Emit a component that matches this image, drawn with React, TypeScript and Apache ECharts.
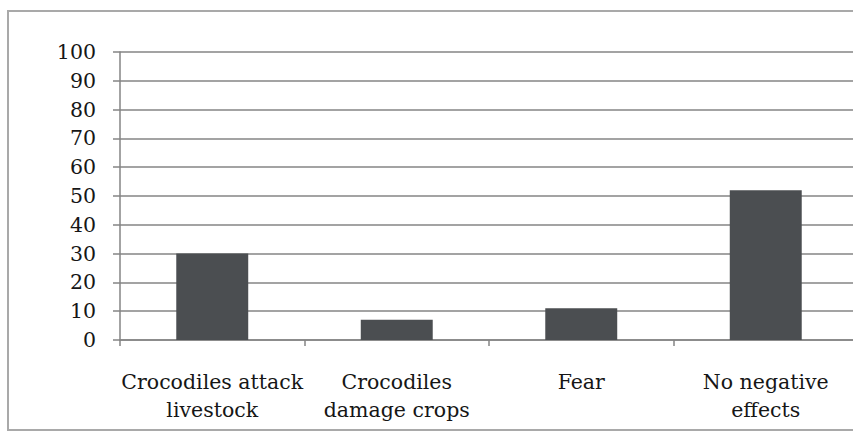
import React, { useEffect, useRef } from "react";
import * as echarts from "echarts";

const categories = [
  "Crocodiles attack\nlivestock",
  "Crocodiles\ndamage crops",
  "Fear",
  "No negative\neffects",
];
const values = [30, 7, 11, 52];

const FONT = "DejaVu Serif";

export default function App() {
  const ref = useRef<HTMLDivElement>(null);

  useEffect(() => {
    if (!ref.current) return;
    const chart = echarts.init(ref.current, null, { renderer: "svg" });
    chart.setOption({
      animation: false,
      backgroundColor: "#ffffff",
      graphic: [
        {
          type: "rect",
          shape: { x: 8, y: 11, width: 870, height: 419 },
          style: { fill: "none", stroke: "#a9a9a9", lineWidth: 2 },
          silent: true,
        },
      ],
      // the plot runs past the right edge of the frame
      grid: { left: 120, width: 738, top: 52, bottom: 95, outerBoundsMode: "none" },
      xAxis: {
        type: "category",
        data: categories,
        axisLine: { show: true, lineStyle: { color: "#858585", width: 1.5 } },
        axisTick: { show: true, length: 6, alignWithLabel: false, lineStyle: { color: "#858585", width: 1.5 } },
        axisLabel: {
          interval: 0,
          margin: 28,
          color: "#161616",
          fontFamily: FONT,
          fontSize: 20.5,
          lineHeight: 28,
        },
      },
      yAxis: {
        type: "value",
        min: 0,
        max: 100,
        interval: 10,
        axisLine: { show: true, lineStyle: { color: "#858585", width: 1.5 } },
        axisTick: { show: true, length: 7, lineStyle: { color: "#858585", width: 1.5 } },
        splitLine: { show: true, lineStyle: { color: "#858585", width: 1.5 } },
        axisLabel: {
          margin: 24,
          color: "#161616",
          fontFamily: FONT,
          fontSize: 20.5,
        },
      },
      series: [
        {
          type: "bar",
          data: values,
          barWidth: "39%",
          itemStyle: { color: "#4b4e51" },
        },
      ],
    });
    return () => chart.dispose();
  }, []);

  return (
    <div
      ref={ref}
      style={{ position: "absolute", left: 0, top: 0, width: 853, height: 435 }}
    />
  );
}
